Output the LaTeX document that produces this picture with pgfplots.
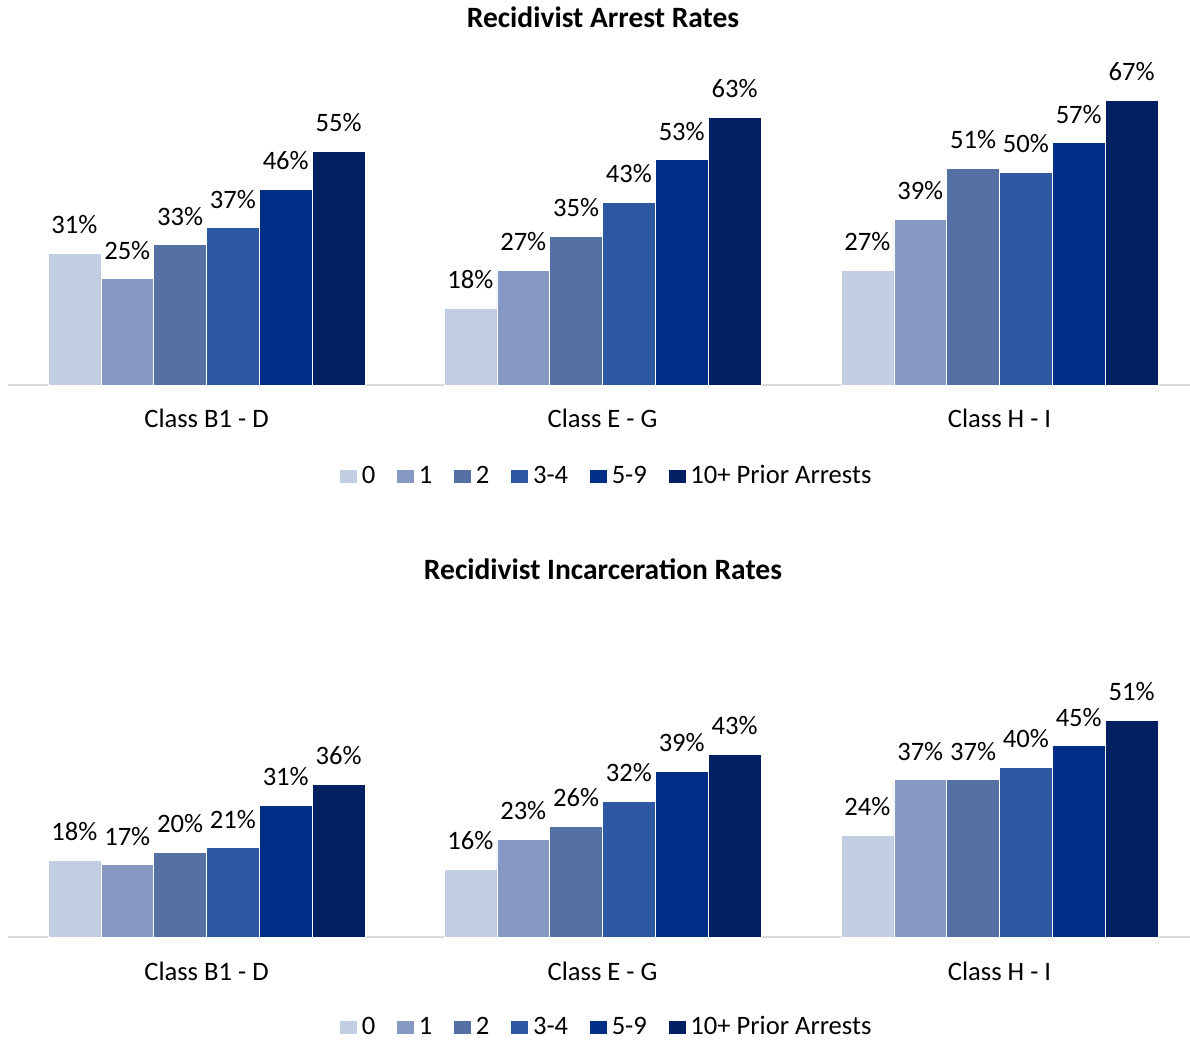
\documentclass[border=0pt]{standalone}
\usepackage{pgfplots}
\pgfplotsset{compat=1.18}
\usepackage{fontspec}
\setmainfont{Carlito}
\definecolor{c0}{HTML}{C2CEE1}
\definecolor{c1}{HTML}{8599C3}
\definecolor{c2}{HTML}{5571A3}
\definecolor{c3}{HTML}{2E58A2}
\definecolor{c4}{HTML}{002D86}
\definecolor{c5}{HTML}{022163}
\definecolor{axgray}{HTML}{D9D9D9}

\pgfplotsset{
  mybars/.style={
    ybar=0pt, bar width=52.83,
    scale only axis, width=591pt,
    xmin=8, xmax=1190, ymin=0,
    xtick={206.5,602.5,999.5},
    xticklabels={Class B1 - D, Class E - G, Class H - I},
    major tick length=0pt,
    axis x line*=bottom,
    hide y axis,
    x axis line style={draw=axgray, line width=1pt},
    clip=false,
    /pgf/number format/assume math mode=true,
    xticklabel style={font=\fontsize{13.3}{15}\selectfont, anchor=base, yshift=-21.5pt},
    nodes near coords={\pgfmathprintnumber[assume math mode=true]{\pgfplotspointmeta}\%},
    every node near coord/.append style={font=\fontsize{13.3}{15}\selectfont, text=black, anchor=south, inner sep=0pt, yshift=9.5pt},
    legend style={draw=none, fill=none, legend columns=-1,
      font=\fontsize{13.3}{15}\selectfont,
      nodes={inner sep=2pt},
      /tikz/every even column/.append style={column sep=8.5pt}},
    legend image code/.code={\path[##1, draw=none] (0pt,-3.5pt) rectangle (7pt,3.5pt);\path (0pt,-3.5pt) rectangle (9pt,3.5pt);},
  },
  s0/.style={fill=c0, draw=white, line width=0.3pt},
  s1/.style={fill=c1, draw=white, line width=0.3pt},
  s2/.style={fill=c2, draw=white, line width=0.3pt},
  s3/.style={fill=c3, draw=white, line width=0.3pt},
  s4/.style={fill=c4, draw=white, line width=0.3pt},
  s5/.style={fill=c5, draw=white, line width=0.3pt},
}

\begin{document}
\begin{tikzpicture}[x=1pt,y=1pt]
\path[use as bounding box] (0,0) rectangle (595,520);

\node[font=\bfseries\fontsize{14.75}{17}\selectfont, anchor=base] at (301.5,506) {Recidivist Arrest Rates};
\node[font=\bfseries\fontsize{14.75}{17}\selectfont, anchor=base] at (301.5,230) {Recidivist Incarceration Rates};

% Top chart: Recidivist Arrest Rates
\begin{axis}[mybars, at={(4pt,327.5pt)}, anchor=south west,
  height=170pt, ymax=80,
  legend style={at={(axis description cs:0.507,-0.2676)}, anchor=center}]
\addplot[s0] coordinates {(206.5,31) (602.5,18) (999.5,27)};
\addplot[s1] coordinates {(206.5,25) (602.5,27) (999.5,39)};
\addplot[s2] coordinates {(206.5,33) (602.5,35) (999.5,51)};
\addplot[s3] coordinates {(206.5,37) (602.5,43) (999.5,50)};
\addplot[s4] coordinates {(206.5,46) (602.5,53) (999.5,57)};
\addplot[s5] coordinates {(206.5,55) (602.5,63) (999.5,67)};
\legend{0,1,2,3-4,5-9,10+ Prior Arrests}
\end{axis}

% Bottom chart: Recidivist Incarceration Rates
\begin{axis}[mybars, at={(4pt,51.5pt)}, anchor=south west,
  height=127.5pt, ymax=60,
  legend style={at={(axis description cs:0.507,-0.353)}, anchor=center}]
\addplot[s0] coordinates {(206.5,18) (602.5,16) (999.5,24)};
\addplot[s1] coordinates {(206.5,17) (602.5,23) (999.5,37)};
\addplot[s2] coordinates {(206.5,20) (602.5,26) (999.5,37)};
\addplot[s3] coordinates {(206.5,21) (602.5,32) (999.5,40)};
\addplot[s4] coordinates {(206.5,31) (602.5,39) (999.5,45)};
\addplot[s5] coordinates {(206.5,36) (602.5,43) (999.5,51)};
\legend{0,1,2,3-4,5-9,10+ Prior Arrests}
\end{axis}
\end{tikzpicture}
\end{document}
